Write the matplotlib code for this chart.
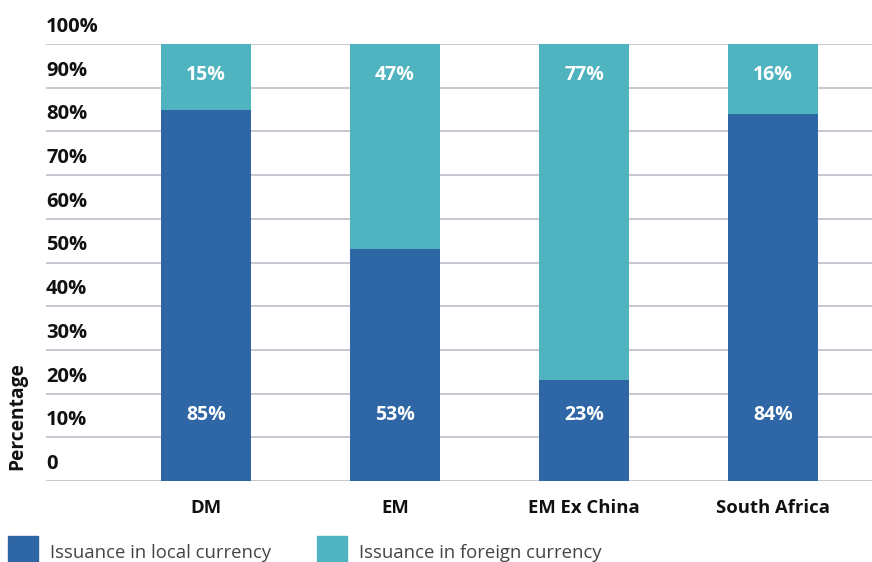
import matplotlib.pyplot as plt
from matplotlib.patches import Rectangle
from matplotlib.transforms import offset_copy

categories = ['DM', 'EM', 'EM Ex China', 'South Africa']
local_pct = [85, 53, 23, 84]
foreign_pct = [15, 47, 77, 16]
y_ticks = [0, 10, 20, 30, 40, 50, 60, 70, 80, 90, 100]
y_tick_labels = ['0', '10%', '20%', '30%', '40%', '50%', '60%', '70%', '80%', '90%', '100%']
legend_labels = ['Issuance in local currency', 'Issuance in foreign currency']

c_local = '#2F66A5'
c_foreign = '#4FB4BF'
grid_c = '#BDBDC7'

plt.rcParams['font.family'] = ['Open Sans', 'DejaVu Sans']

W, H = 872, 562
fig = plt.figure(figsize=(W / 100, H / 100), dpi=100)
ax = fig.add_axes([46 / W, (H - 481) / H, 1 - 46 / W, 437 / H])

x = list(range(len(categories)))
ax.bar(x, local_pct, width=0.476, color=c_local, zorder=2)
ax.bar(x, foreign_pct, bottom=local_pct, width=0.476, color=c_foreign, zorder=2)

for xi, lv, fv in zip(x, local_pct, foreign_pct):
    ax.text(xi, 15.1, f'{lv}%', ha='center', va='center', color='white',
            fontsize=14, fontweight='bold', zorder=3)
    ax.text(xi, 92.8, f'{fv}%', ha='center', va='center', color='white',
            fontsize=14, fontweight='bold', zorder=3)

ax.set_xlim(-0.847, 3.524)
ax.set_ylim(0, 100)
for v in y_ticks:
    ax.axhline(v, color=grid_c, lw=1.2, zorder=1)

# y tick labels sit above their gridlines
tr = offset_copy(ax.get_yaxis_transform(), fig=fig, x=0, y=17, units='dots')
for v, lab in zip(y_ticks, y_tick_labels):
    ax.text(0, v, lab, transform=tr, ha='left', va='center',
            fontsize=14.5, fontweight='bold', color='#111111')

ax.set_yticks([])
ax.set_xticks(x)
ax.set_xticklabels(categories, fontsize=13.3, fontweight='bold', color='#111111')
ax.tick_params(axis='x', length=0, pad=13)
for s in ax.spines.values():
    s.set_visible(False)

fig.text(17 / W, 1 - 416 / H, 'Percentage', rotation=90, ha='center', va='center',
         fontsize=13.8, fontweight='bold', color='#111111')

# legend along the bottom
for x0, col, lab in [(8, c_local, legend_labels[0]), (317, c_foreign, legend_labels[1])]:
    fig.patches.append(Rectangle((x0 / W, 0), 30 / W, 26 / H, transform=fig.transFigure,
                                 color=col, figure=fig))
    fig.text((x0 + 42) / W, 1 - 553 / H, lab, ha='left', va='center',
             fontsize=13.3, color='#444444')

fig.savefig('out.png', dpi=100)
